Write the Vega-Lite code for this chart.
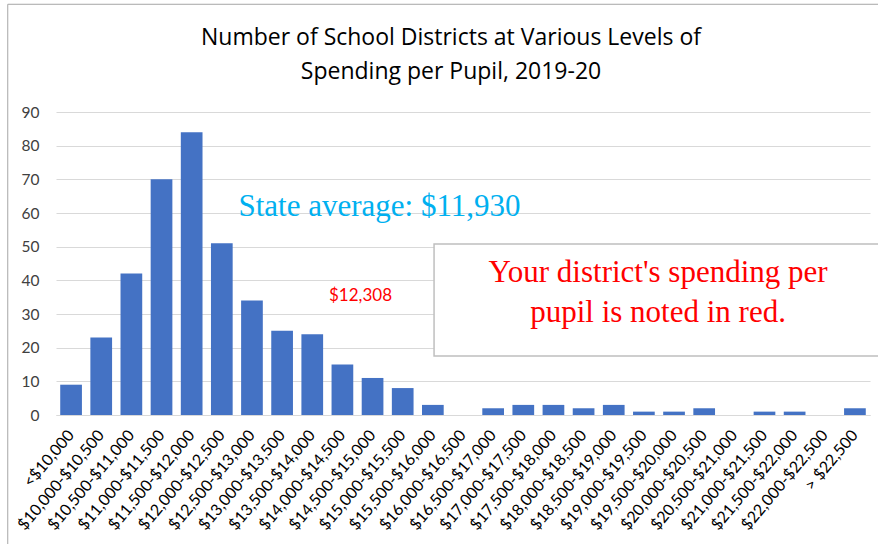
{
  "$schema": "https://vega.github.io/schema/vega-lite/v6.json",
  "width": 814,
  "height": 303,
  "autosize": {"type": "none"},
  "padding": {"left": 56, "top": 112, "right": 8, "bottom": 129},
  "background": "white",
  "config": {"view": {"stroke": null}, "font": "Lato"},
  "title": {
    "text": ["Number of School Districts at Various Levels of", "Spending per Pupil, 2019-20"],
    "fontSize": 23, "font": "Open Sans", "fontWeight": "normal", "color": "#000000",
    "lineHeight": 34, "anchor": "middle", "dx": -12, "offset": -80
  },
  "datasets": {
    "bars": [
      {"range": "<$10,000", "districts": 9},
      {"range": "$10,000-$10,500", "districts": 23},
      {"range": "$10,500-$11,000", "districts": 42},
      {"range": "$11,000-$11,500", "districts": 70},
      {"range": "$11,500-$12,000", "districts": 84},
      {"range": "$12,000-$12,500", "districts": 51},
      {"range": "$12,500-$13,000", "districts": 34},
      {"range": "$13,000-$13,500", "districts": 25},
      {"range": "$13,500-$14,000", "districts": 24},
      {"range": "$14,000-$14,500", "districts": 15},
      {"range": "$14,500-$15,000", "districts": 11},
      {"range": "$15,000-$15,500", "districts": 8},
      {"range": "$15,500-$16,000", "districts": 3},
      {"range": "$16,000-$16,500", "districts": 0},
      {"range": "$16,500-$17,000", "districts": 2},
      {"range": "$17,000-$17,500", "districts": 3},
      {"range": "$17,500-$18,000", "districts": 3},
      {"range": "$18,000-$18,500", "districts": 2},
      {"range": "$18,500-$19,000", "districts": 3},
      {"range": "$19,000-$19,500", "districts": 1},
      {"range": "$19,500-$20,000", "districts": 1},
      {"range": "$20,000-$20,500", "districts": 2},
      {"range": "$20,500-$21,000", "districts": 0},
      {"range": "$21,000-$21,500", "districts": 1},
      {"range": "$21,500-$22,000", "districts": 1},
      {"range": "$22,000-$22,500", "districts": 0},
      {"range": "> $22,500", "districts": 2}
    ],
    "frame": [{"x0": -1.6, "x1": 30, "y0": 122, "y1": -40}],
    "box": [{"x0": 12.54, "x1": 30, "y0": 50.8, "y1": 17.5}],
    "blueNote": [{"x": 10.73, "y": 61.8, "label": "State average: $11,930"}],
    "redValue": [{"x": 10.1, "y": 35.3, "label": "$12,308"}],
    "boxText": [
      {"x": 19.97, "y": 42.2, "label": "Your district's spending per"},
      {"x": 19.97, "y": 30.3, "label": "pupil is noted in red."}
    ]
  },
  "layer": [
    {
      "data": {"name": "bars"},
      "mark": {"type": "bar", "color": "#4472C4"},
      "encoding": {
        "x": {
          "field": "range", "type": "nominal", "sort": null,
          "scale": {"paddingInner": 0.28, "paddingOuter": 0.14},
          "axis": {
            "title": null, "labelAngle": -50, "labelAlign": "right", "labelBaseline": "middle",
            "labelFontSize": 16, "labelFont": "Lato", "labelColor": "#000000", "ticks": false,
            "domainColor": "#D9D9D9", "labelPadding": 17, "labelOverlap": false, "labelBound": false
          }
        },
        "y": {
          "field": "districts", "type": "quantitative",
          "scale": {"domain": [0, 90], "nice": false},
          "axis": {
            "title": null, "values": [0, 10, 20, 30, 40, 50, 60, 70, 80, 90],
            "grid": true, "gridColor": "#D9D9D9", "domain": false, "ticks": false, "labelOverlap": false,
            "labelPadding": 17, "labelFontSize": 15.5, "labelFont": "Lato", "labelColor": "#404040"
          }
        }
      }
    },
    {
      "layer": [
        {
          "data": {"name": "frame"},
          "mark": {"type": "rect", "fill": null, "stroke": "#A6A6A6", "strokeWidth": 1, "clip": false},
          "encoding": {
            "x": {"field": "x0", "type": "quantitative", "scale": {"domain": [0, 27], "nice": false, "zero": false}, "axis": null},
            "x2": {"field": "x1"},
            "y": {"field": "y0", "type": "quantitative", "axis": null},
            "y2": {"field": "y1"}
          }
        },
        {
          "data": {"name": "box"},
          "mark": {"type": "rect", "fill": "white", "stroke": "#BFBFBF", "strokeWidth": 1.5, "clip": false},
          "encoding": {
            "x": {"field": "x0", "type": "quantitative", "scale": {"domain": [0, 27], "nice": false, "zero": false}, "axis": null},
            "x2": {"field": "x1"},
            "y": {"field": "y0", "type": "quantitative", "axis": null},
            "y2": {"field": "y1"}
          }
        },
        {
          "data": {"name": "blueNote"},
          "mark": {"type": "text", "font": "Liberation Serif", "fontSize": 31, "color": "#00B0F0", "align": "center", "baseline": "middle"},
          "encoding": {
            "x": {"field": "x", "type": "quantitative", "scale": {"domain": [0, 27], "nice": false, "zero": false}, "axis": null},
            "y": {"field": "y", "type": "quantitative", "axis": null},
            "text": {"field": "label"}
          }
        },
        {
          "data": {"name": "redValue"},
          "mark": {"type": "text", "font": "Lato", "fontSize": 17, "color": "#FF0000", "align": "center", "baseline": "middle"},
          "encoding": {
            "x": {"field": "x", "type": "quantitative", "scale": {"domain": [0, 27], "nice": false, "zero": false}, "axis": null},
            "y": {"field": "y", "type": "quantitative", "axis": null},
            "text": {"field": "label"}
          }
        },
        {
          "data": {"name": "boxText"},
          "mark": {"type": "text", "font": "Liberation Serif", "fontSize": 31, "color": "#FF0000", "align": "center", "baseline": "middle"},
          "encoding": {
            "x": {"field": "x", "type": "quantitative", "scale": {"domain": [0, 27], "nice": false, "zero": false}, "axis": null},
            "y": {"field": "y", "type": "quantitative", "axis": null},
            "text": {"field": "label"}
          }
        }
      ]
    }
  ],
  "resolve": {"scale": {"x": "independent"}, "axis": {"y": "independent"}}
}
